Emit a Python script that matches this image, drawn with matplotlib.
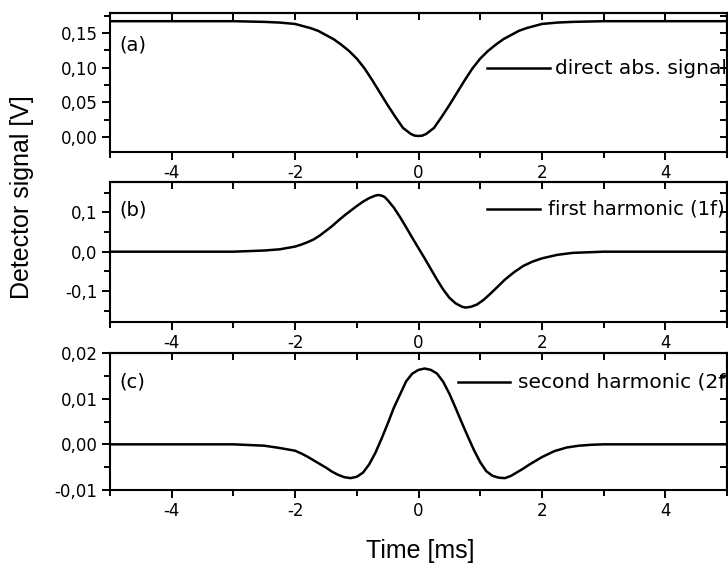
import matplotlib
matplotlib.use("Agg")
import matplotlib.pyplot as plt
from matplotlib.ticker import MultipleLocator, FuncFormatter

# --- data (time in ms, signal in V) ------------------------------------------
t_abs = [-5, -3, -2.5, -2.25, -2, -1.875, -1.75, -1.625, -1.5, -1.375, -1.25,
         -1.125, -1, -0.875, -0.75, -0.625, -0.5, -0.375, -0.25, -0.125, -0.0625,
         0, 0.0625, 0.125, 0.25, 0.375, 0.5, 0.625, 0.75, 0.875, 1, 1.125, 1.25,
         1.375, 1.5, 1.625, 1.75, 1.875, 2, 2.25, 2.5, 3, 5]
v_abs = [0.167, 0.167, 0.166, 0.165, 0.163, 0.160, 0.157, 0.153, 0.147, 0.141,
         0.133, 0.124, 0.113, 0.099, 0.082, 0.064, 0.046, 0.029, 0.013, 0.0045,
         0.002, 0.0015, 0.002, 0.0045, 0.013, 0.029, 0.046, 0.064, 0.082, 0.099,
         0.113, 0.124, 0.133, 0.141, 0.147, 0.153, 0.157, 0.160, 0.163, 0.165,
         0.166, 0.167, 0.167]

t_1f = [-5, -3, -2.5, -2.25, -2, -1.9, -1.8, -1.7, -1.6, -1.5, -1.4, -1.3, -1.2,
        -1.1, -1.0, -0.9, -0.8, -0.7, -0.65, -0.6, -0.55, -0.5, -0.4, -0.3, -0.2,
        -0.1, 0, 0.1, 0.2, 0.3, 0.4, 0.5, 0.6, 0.7, 0.76, 0.85, 0.95, 1.05, 1.15,
        1.25, 1.4, 1.55, 1.7, 1.85, 2, 2.25, 2.5, 3, 5]
v_1f = [0, 0, 0.003, 0.006, 0.013, 0.018, 0.024, 0.031, 0.041, 0.053, 0.065,
        0.079, 0.092, 0.104, 0.116, 0.127, 0.136, 0.1425, 0.144, 0.1425, 0.139,
        0.131, 0.112, 0.088, 0.062, 0.035, 0.009, -0.017, -0.044, -0.071, -0.096,
        -0.117, -0.131, -0.1395, -0.142, -0.140, -0.134, -0.123, -0.109, -0.094,
        -0.071, -0.052, -0.036, -0.025, -0.017, -0.008, -0.003, 0, 0]

t_2f = [-5, -3, -2.5, -2.25, -2, -1.9, -1.8, -1.7, -1.6, -1.5, -1.4, -1.3, -1.2,
        -1.1, -1.0, -0.9, -0.8, -0.7, -0.6, -0.5, -0.4, -0.3, -0.2, -0.1, 0, 0.1,
        0.2, 0.3, 0.4, 0.5, 0.6, 0.7, 0.8, 0.9, 1.0, 1.1, 1.2, 1.3, 1.4, 1.5, 1.6,
        1.7, 1.8, 1.9, 2, 2.2, 2.4, 2.6, 2.8, 3, 5]
v_2f = [0, 0, -0.0003, -0.0008, -0.0014, -0.0020, -0.0027, -0.0035, -0.0043,
        -0.0051, -0.0060, -0.0067, -0.0072, -0.0074, -0.0071, -0.0062, -0.0044,
        -0.0019, 0.0012, 0.0045, 0.0080, 0.0109, 0.0138, 0.0155, 0.0163, 0.0166,
        0.0163, 0.0155, 0.0137, 0.0111, 0.0080, 0.0048, 0.0017, -0.0013, -0.0039,
        -0.0059, -0.0069, -0.0073, -0.0074, -0.0069, -0.0061, -0.0053, -0.0044,
        -0.0036, -0.0028, -0.0015, -0.0007, -0.0003, -0.0001, 0, 0]

labels = ["direct abs. signal", "first harmonic (1f)", "second harmonic (2f)"]
tags = ["(a)", "(b)", "(c)"]
ylims = [(-0.0216, 0.1788), (-0.1786, 0.177), (-0.01, 0.02)]
y_major = [0.05, 0.1, 0.01]
y_minor = [0.025, 0.05, 0.005]
y_dec = [2, 1, 2]

plt.rcParams["font.family"] = "DejaVu Sans"


def comma_fmt(dec):
    def f(y, _):
        s = f"{y:.{dec}f}"
        if float(s) == 0:
            s = s.lstrip("-")
        return s.replace(".", ",")
    return FuncFormatter(f)


fig = plt.figure(figsize=(7.28, 5.65), dpi=100)
left, width = 110 / 728, 617 / 728
# (top px, bottom px) of each panel
rows = [(13, 152), (182, 322), (353, 490)]
# legend line start/end, line y, text x (axes fraction), text size
# (the texts run into the right spine and are clipped there, as in the original)
leg = [(0.611, 0.713, 0.604, 0.721, 14.5),
       (0.611, 0.697, 0.807, 0.710, 14.0),
       (0.564, 0.648, 0.788, 0.661, 14.5)]
tag_y = [0.77, 0.80, 0.79]

series = [(t_abs, v_abs), (t_1f, v_1f), (t_2f, v_2f)]

for i, ((top, bot), (t, v)) in enumerate(zip(rows, series)):
    ax = fig.add_axes([left, 1 - bot / 565, width, (bot - top) / 565])
    ax.plot(t, v, color="black", lw=1.8, solid_joinstyle="round")
    ax.set_xlim(-5, 5)
    ax.set_ylim(*ylims[i])

    ax.xaxis.set_major_locator(MultipleLocator(2))
    ax.xaxis.set_minor_locator(MultipleLocator(1))
    ax.yaxis.set_major_locator(MultipleLocator(y_major[i]))
    ax.yaxis.set_minor_locator(MultipleLocator(y_minor[i]))
    ax.yaxis.set_major_formatter(comma_fmt(y_dec[i]))
    ax.xaxis.set_major_formatter(FuncFormatter(lambda x, _: f"{x:.0f}"))

    for s in ax.spines.values():
        s.set_linewidth(1.5)
    ax.tick_params(which="both", width=1.4, labelsize=12, pad=3)
    ax.tick_params(which="major", length=6)
    ax.tick_params(which="minor", length=4)
    ax.tick_params(axis="x", which="both", direction="out", top=False)
    ax.tick_params(axis="y", which="both", direction="out", right=False)

    # inward ticks on top and right
    sec_x = ax.secondary_xaxis("top")
    sec_x.xaxis.set_major_locator(MultipleLocator(1))
    sec_x.tick_params(direction="in", length=5, width=1.4, labeltop=False)
    sec_x.spines["top"].set_linewidth(1.5)
    sec_y = ax.secondary_yaxis("right")
    sec_y.yaxis.set_major_locator(MultipleLocator(y_minor[i]))
    sec_y.tick_params(direction="in", length=5, width=1.4, labelright=False)
    sec_y.spines["right"].set_linewidth(1.5)

    x0, x1, ly, tx, fs = leg[i]
    ax.plot([x0, x1], [ly, ly], color="black", lw=1.8, transform=ax.transAxes)
    ax.text(tx, ly, labels[i], transform=ax.transAxes, ha="left", va="center",
            fontsize=fs, clip_on=True)
    ax.text(0.016, tag_y[i], tags[i], transform=ax.transAxes, ha="left",
            va="center", fontsize=14)

fig.text(22 / 728, 1 - 197 / 565, "Detector signal [V]", rotation=90,
         ha="center", va="center", fontsize=18, family="Liberation Sans")
fig.text(420 / 728, 1 - 551 / 565, "Time [ms]", ha="center", va="center",
         fontsize=18, family="Liberation Sans")

fig.savefig("out.png", dpi=100)
